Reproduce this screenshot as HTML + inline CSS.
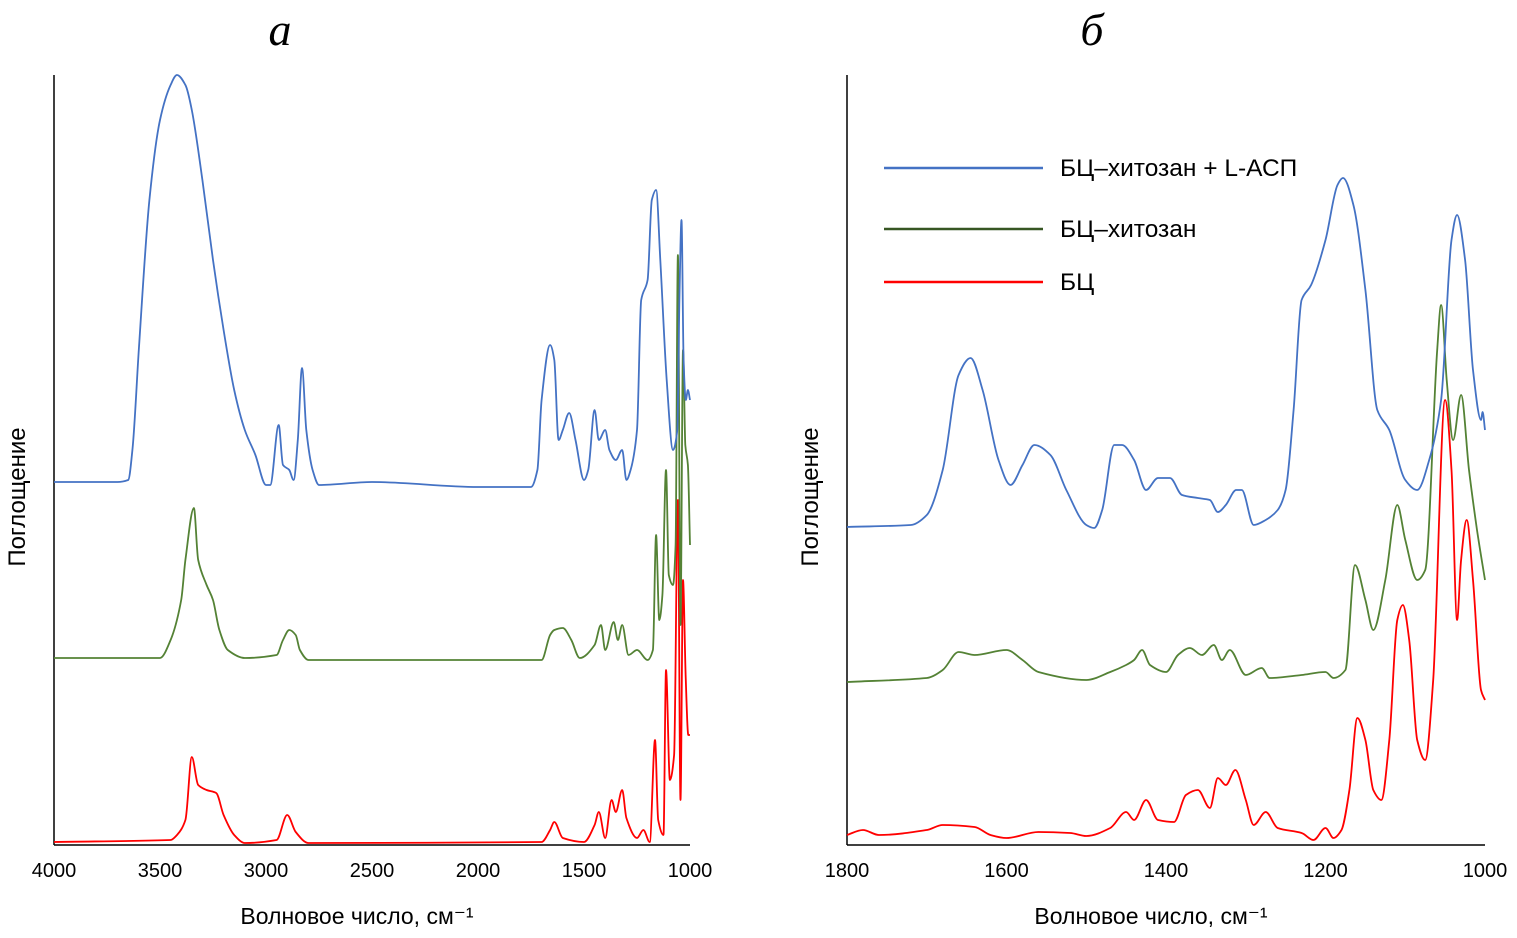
<!DOCTYPE html>
<html><head><meta charset="utf-8"><style>
body{margin:0;background:#fff;}
svg{display:block;font-family:"Liberation Sans",sans-serif;}
</style></head><body>
<svg id="chart" width="1517" height="938" viewBox="0 0 1517 938">
<text x="280" y="45" font-family="Liberation Serif,serif" font-style="italic" font-size="46" text-anchor="middle">а</text>
<text x="1092" y="45" font-family="Liberation Serif,serif" font-style="italic" font-size="46" text-anchor="middle">б</text>
<g id="pa"></g>
<g id="pb"></g>
<g>
<line x1="884" y1="168" x2="1043" y2="168" stroke="#4472C4" stroke-width="2.5"/>
<text x="1060" y="176" font-size="24.5">БЦ–хитозан + L-АСП</text>
<line x1="884" y1="229" x2="1043" y2="229" stroke="#375623" stroke-width="2.5"/>
<text x="1060" y="237" font-size="24.5">БЦ–хитозан</text>
<line x1="884" y1="282" x2="1043" y2="282" stroke="#FF0000" stroke-width="2.5"/>
<text x="1060" y="290" font-size="24.5">БЦ</text>
</g>
</svg>
<script>
const ticksA=[4000,3500,3000,2500,2000,1500,1000];
const ticksB=[1800,1600,1400,1200,1000];
const aBlueX=[4000,3700,3650,3630,3600,3550,3500,3450,3420,3380,3350,3300,3250,3200,3150,3100,3050,3000,2980,2940,2920,2890,2870,2850,2830,2810,2780,2750,2500,2000,1750,1720,1700,1660,1640,1620,1600,1570,1540,1500,1480,1450,1430,1400,1380,1350,1320,1300,1280,1250,1230,1200,1180,1160,1140,1110,1080,1060,1050,1040,1030,1020,1010,1000];
const aBlueY=[36.3,36.3,36.5,39.5,49.5,64.5,72.5,76,77,76,73.5,66.5,58.5,51.5,45.5,41.5,39,36,36,42,38,37.5,36.5,40.5,47.7,41.5,37.5,36,36.3,35.8,35.8,37.5,44.5,50,48.5,40.5,41.5,43.2,40.5,36.5,37.5,43.5,40.5,41.5,39.5,38.5,39.5,36.5,37.5,41.5,54.5,56.5,64.5,65.5,58.5,46.5,39.5,41.5,54.5,62.5,48.5,44.5,45.5,44.5];
const aGreenX=[4000,3500,3450,3400,3380,3340,3320,3280,3250,3220,3180,3100,2950,2920,2890,2860,2840,2800,1700,1660,1640,1600,1560,1520,1450,1420,1400,1360,1340,1320,1290,1250,1200,1175,1160,1145,1130,1113,1100,1080,1068,1057,1045,1033,1022,1010,1000];
const aGreenY=[18.7,18.7,20.5,24.5,28.5,33.7,28.5,26,24.5,21.5,19.5,18.7,19,20.5,21.5,21,19.5,18.5,18.5,21,21.5,21.7,20.5,18.7,20,22,19.5,22.3,20.5,22,19,19.5,18.5,19.5,31,22.5,25,37.5,27,26,30,59,22,49.5,40,38,30];
const aRedX=[4000,3450,3420,3380,3350,3320,3280,3235,3200,3150,3100,2950,2900,2860,2800,1700,1660,1640,1600,1500,1450,1430,1400,1370,1350,1320,1300,1250,1220,1190,1165,1150,1125,1113,1095,1075,1057,1045,1033,1020,1008,1000];
const aRedY=[0.3,0.5,1,2.5,8.8,6,5.5,5.2,3,1,0.2,0.5,3,1.3,0.2,0.3,1.5,2.3,0.7,0.3,2,3.3,0.7,4.5,3.3,5.5,2.7,0.7,1.5,0.3,10.5,2.5,1,17.5,6.5,9,34.5,4.5,26.5,16.5,11,11];
const bBlueX=[1800,1720,1700,1680,1660,1645,1630,1610,1595,1580,1565,1545,1525,1500,1490,1480,1465,1455,1440,1425,1410,1395,1380,1360,1345,1335,1325,1312,1305,1290,1275,1260,1250,1240,1230,1218,1200,1185,1178,1165,1150,1135,1120,1100,1085,1070,1055,1042,1035,1025,1015,1005,1003,1000];
const bBlueY=[31.8,32,33,37.5,47,48.7,45.5,38.5,36,38,40,39,35.5,32,31.7,33.5,40,40,38.5,35.5,36.7,36.7,35,34.7,34.5,33.3,34,35.5,35.5,32,32.5,33.5,35.5,43.5,54.5,56,60.5,66,66.7,64,55.5,43.5,41.5,36.5,35.5,38.5,44.5,60.5,63,58.5,47.5,42.5,43.3,41.5];
const bGreenX=[1800,1700,1680,1660,1640,1600,1580,1560,1500,1470,1450,1440,1430,1420,1400,1385,1370,1355,1340,1330,1320,1300,1280,1270,1230,1200,1190,1175,1163,1150,1140,1125,1110,1100,1085,1075,1060,1055,1048,1040,1030,1020,1010,1000];
const bGreenY=[16.3,16.7,17.5,19.3,19,19.5,18.5,17.3,16.5,17.3,18,18.5,19.5,18,17.3,19,19.7,19,20,18.5,19.5,17,17.7,16.7,17,17.3,16.7,17.5,28,24.5,21.5,26.5,34,30.5,26.5,27.5,49.5,54,46.5,40.5,45,37.5,31.5,26.5];
const bRedX=[1800,1780,1760,1700,1680,1640,1620,1600,1560,1520,1500,1470,1450,1440,1425,1410,1390,1375,1360,1345,1335,1325,1313,1300,1290,1275,1260,1230,1215,1200,1190,1180,1170,1160,1150,1140,1130,1120,1110,1103,1095,1085,1075,1065,1050,1042,1035,1030,1023,1015,1005,1000];
const bRedY=[1,1.5,1,1.5,2,1.8,1,0.7,1.3,1.2,0.9,1.7,3.3,2.5,4.5,2.5,2.3,5,5.5,3.7,6.7,6,7.5,4.5,2,3.3,1.7,1.2,0.5,1.7,0.7,1.5,5.5,12.7,10.5,5.5,4.5,10.5,22.5,24,20.5,10.5,8.5,16.5,44.5,37.5,22.5,28.5,32.5,26.5,15.5,14.5];

const NS='http://www.w3.org/2000/svg';
function mk(parent,tag,attrs,text){const e=document.createElementNS(NS,tag);for(const k in attrs)e.setAttribute(k,attrs[k]);if(text!==undefined)e.textContent=text;parent.appendChild(e);return e;}
const yScale=v=>845-v*10;
function path(xs,ys,xScale){
  const p=xs.map((x,i)=>[xScale(x),yScale(ys[i])]);
  const n=p.length,sec=[],m=[];
  for(let i=0;i<n-1;i++)sec.push((p[i+1][1]-p[i][1])/(p[i+1][0]-p[i][0]));
  for(let i=0;i<n;i++){
    if(i===0)m.push(sec[0]);else if(i===n-1)m.push(sec[n-2]);
    else if(sec[i-1]*sec[i]<=0)m.push(0);
    else{const a=sec[i-1],b=sec[i];m.push(2*a*b/(a+b));}
  }
  let d='M'+p[0][0].toFixed(1)+','+p[0][1].toFixed(1);
  for(let i=0;i<n-1;i++){
    const h=(p[i+1][0]-p[i][0])/3;
    d+='C'+(p[i][0]+h).toFixed(1)+','+(p[i][1]+m[i]*h).toFixed(1)+' '+(p[i+1][0]-h).toFixed(1)+','+(p[i+1][1]-m[i+1]*h).toFixed(1)+' '+p[i+1][0].toFixed(1)+','+p[i+1][1].toFixed(1);
  }
  return d;
}
function panel(g,x0,x1,w0,w1,ticks,series,key){
  const xs=w=>x0+(w0-w)/(w0-w1)*(x1-x0);
  let e;
  e=mk(g,'line',{x1:x0,y1:75,x2:x0,y2:845,stroke:'#000','stroke-width':1.5});
  
  
  e=mk(g,'line',{x1:x0,y1:845,x2:x1,y2:845,stroke:'#000','stroke-width':1.5});
  
  
  ticks.forEach(t=>{
    e=mk(g,'text',{x:xs(t),y:877,'font-size':20,'text-anchor':'middle'},t);
    
    
  });
  e=mk(g,'text',{x:(x0+x1)/2-15,y:924,'font-size':23,'text-anchor':'middle'},'Волновое число, см⁻¹');
  
  
  const lx=x0-29;
  e=mk(g,'text',{x:lx,y:497,'font-size':24,'text-anchor':'middle',transform:'rotate(-90 '+lx+' 497)'},'Поглощение');
  
  
  series.forEach(s=>{
    e=mk(g,'path',{d:path(s[0],s[1],xs),fill:'none',stroke:s[2],'stroke-width':1.8,'stroke-linejoin':'round'});
    
    
  });
}
panel(document.getElementById('pa'),54,690,4000,1000,ticksA,[[aRedX,aRedY,'#FF0000','series-bc'],[aGreenX,aGreenY,'#548235','series-bc-chitosan'],[aBlueX,aBlueY,'#4472C4','series-bc-chitosan-lasp']],'panel-a');
panel(document.getElementById('pb'),847,1485,1800,1000,ticksB,[[bRedX,bRedY,'#FF0000','series-bc'],[bGreenX,bGreenY,'#548235','series-bc-chitosan'],[bBlueX,bBlueY,'#4472C4','series-bc-chitosan-lasp']],'panel-b');
</script>
</body></html>
